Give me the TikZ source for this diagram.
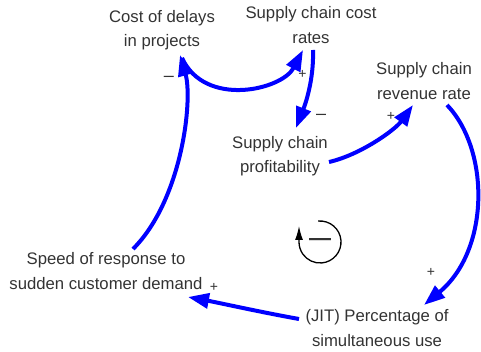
\documentclass[tikz,border=0pt]{standalone}
\usepackage{fontspec}
\setmainfont{Liberation Sans}
\usetikzlibrary{arrows.meta,calc}
\definecolor{txt}{HTML}{333333}
\begin{document}
\begin{tikzpicture}[x=1pt,y=-1pt,
  var/.style={font=\fontsize{16.7}{24.5}\selectfont, text=txt, align=center, inner sep=0pt},
  link/.style={draw=blue, line width=4pt, -{Triangle[length=21pt,width=15pt]}},
  pol/.style={font=\fontsize{14}{14}\selectfont, text=txt, inner sep=0pt},
  neg/.style={font=\fontsize{18}{18}\selectfont, text=txt, inner sep=0pt}]
\useasboundingbox (0,0) rectangle (481,352);
\node[var] (cost) at (162,30) {Cost of delays\\in projects};
\node[var] (scc) at (311,25) {Supply chain cost\\rates};
\node[var] (rev) at (424,81) {Supply chain\\revenue rate};
\node[var] (prof) at (280,156) {Supply chain\\profitability};
\node[var] (speed) at (106,271) {Speed of response to\\sudden customer demand};
\node[var] (jit) at (377,328) {(JIT) Percentage of\\simultaneous use};

\draw[link] ($(speed)+(27,-22)$) .. controls (182,200) and (193,100) .. ($(cost)+(18,25)$);
\draw[link] ($(cost)+(20,28)$) .. controls (205,108) and (282,90) .. ($(scc)+(-8,25)$);
\draw[link] ($(scc)+(2,25)$) .. controls (314,80) and (305,105) .. ($(prof)+(16,-28)$);
\draw[link] ($(prof)+(49,6)$) .. controls (360,155) and (395,130) .. ($(rev)+(-11,24)$);
\draw[link] ($(rev)+(23,24)$) .. controls (490,150) and (490,250) .. ($(jit)+(47,-23)$);
\draw[link] ($(jit)+(-78,-9)$) .. controls (260,312) and (220,303) .. ($(speed)+(82,26)$);

\node[neg] (p1) at (169,79) {–};
\node[pol] (p2) at (302.5,74) {+};
\node[neg] (p3) at (321,117) {–};
\node[pol] (p4) at (391,116) {+};
\node[pol] (p5) at (431,272) {+};
\node[pol] (p6) at (214,287) {+};

\coordinate (loopc) at (320,242);
\draw[line width=1.3pt, -{Latex[length=14pt,width=8pt]}] ($(loopc)+(-95:21)$) arc[start angle=-95,end angle=180,radius=21] -- ++(0,-16);
\node[font=\fontsize{22}{22}\selectfont\bfseries, text=txt, inner sep=0pt] (loopsign) at (loopc) {—};
\end{tikzpicture}
\end{document}
